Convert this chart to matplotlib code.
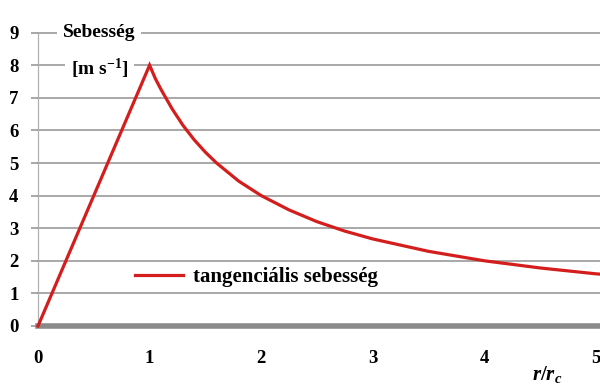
import matplotlib
matplotlib.use("Agg")
import matplotlib.pyplot as plt

plt.rcParams['font.family'] = ['Liberation Serif', 'DejaVu Serif']
plt.rcParams['font.weight'] = 'bold'
plt.rcParams['mathtext.fontset'] = 'custom'
plt.rcParams['mathtext.rm'] = 'Liberation Serif:bold'
plt.rcParams['mathtext.it'] = 'Liberation Serif:italic:bold'
plt.rcParams['mathtext.bf'] = 'Liberation Serif:bold'

# data
r_values = [0, 0.5, 1.0, 1.05, 1.1, 1.2, 1.3, 1.4, 1.5, 1.6, 1.8, 2.0, 2.25, 2.5,
            2.75, 3.0, 3.5, 4.0, 4.5, 5.0, 5.04]
v_values = [0, 4.0, 8.0, 7.6, 7.27, 6.67, 6.15, 5.71, 5.33, 5.0, 4.44, 4.0, 3.56, 3.2,
            2.91, 2.67, 2.29, 2.0, 1.78, 1.6, 1.59]
y_ticks = [0, 1, 2, 3, 4, 5, 6, 7, 8, 9]
x_ticks = [0, 1, 2, 3, 4, 5]
series_label = "tangenciális sebesség"

fig = plt.figure(figsize=(6, 3.85), dpi=100)
ax = fig.add_axes([38/600, (385-326)/385, 562/600, 293.4/385])

grid_c = '#9a9a9a'
for y in y_ticks[1:]:
    ax.axhline(y, color=grid_c, lw=1.2, zorder=1, clip_on=False)

ax.plot(r_values, v_values, color='#d41e1e', lw=2.3, zorder=3, label=series_label,
        solid_joinstyle='miter', clip_on=False)

ax.axhline(0, color='#8a8a8a', lw=4.0, zorder=2, clip_on=False)

ax.set_xlim(0, 5.036)
ax.set_ylim(0, 9)
for s in ['top', 'right', 'bottom']:
    ax.spines[s].set_visible(False)
ax.spines['left'].set_color('#b0b0b0')
ax.spines['left'].set_linewidth(0.9)

ax.set_yticks(y_ticks)
ax.set_yticklabels([str(v) for v in y_ticks])
ax.set_xticks(x_ticks)
ax.set_xticklabels([str(v) for v in x_ticks])
ax.tick_params(axis='y', length=5, width=1.2, color=grid_c, pad=9, labelsize=13.5)
ax.tick_params(axis='x', length=0, pad=17, labelsize=13.5)
for lab in ax.get_xticklabels() + ax.get_yticklabels():
    lab.set_fontweight('bold')

ax.text(0.55, 9, 'Sebesség', ha='center', va='center', fontsize=14, fontweight='bold',
        bbox=dict(facecolor='white', edgecolor='none', pad=4), zorder=4)
ax.text(0.55, 7.9, r'[m s$^{-1}$]', ha='center', va='center', fontsize=14, fontweight='bold',
        bbox=dict(facecolor='white', edgecolor='none', pad=4), zorder=4)

ax.text(4.56, -1.5, r'$r/r_c$', ha='center', va='center', fontsize=15)

leg = ax.legend(loc='center left', bbox_to_anchor=(0.172, 0.167), frameon=False,
                borderpad=0, borderaxespad=0, handlelength=2.3, handletextpad=0.5,
                prop={'family': 'Liberation Serif', 'weight': 'bold', 'size': 15})

fig.savefig('out.png', dpi=100)
